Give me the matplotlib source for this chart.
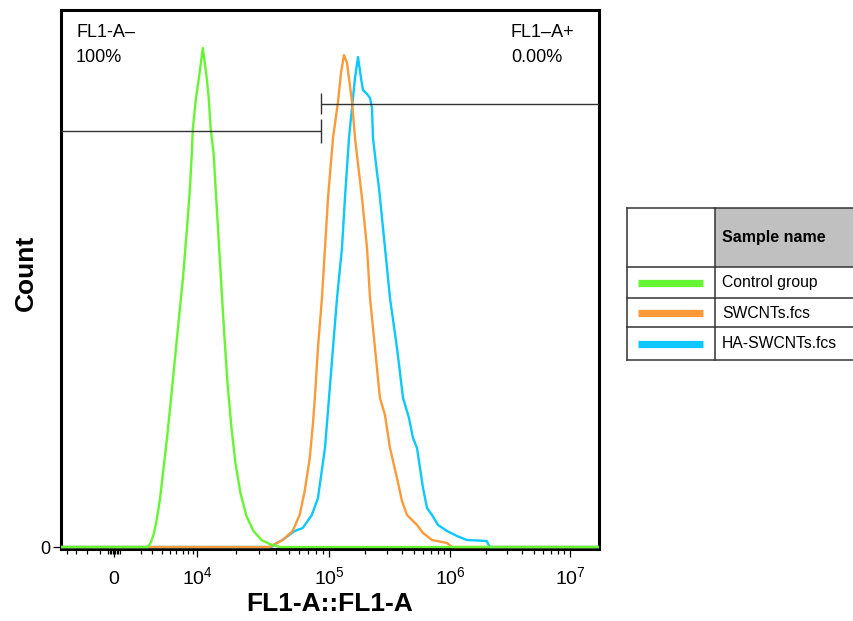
import numpy as np
import matplotlib
matplotlib.use('Agg')
import matplotlib.pyplot as plt
from matplotlib.patches import Rectangle

plt.rcParams['font.family'] = 'Liberation Sans'
plt.rcParams['mathtext.fontset'] = 'custom'
plt.rcParams['mathtext.rm'] = 'Liberation Sans'
plt.rcParams['mathtext.it'] = 'Liberation Sans'
plt.rcParams['mathtext.bf'] = 'Liberation Sans:bold'

# FL1-A intensity vs count
control_fl = [2600, 2890, 3190, 3500, 3840, 4170, 4670, 5210, 5780, 6400, 7080, 7830,
              8420, 8820, 9030, 9750, 10350, 11100, 11900, 12330, 12770, 13450, 13930,
              14680, 15460, 16300, 17170, 18420, 19750, 21540, 23920, 27030, 31070,
              35730, 42550]
control_count = [0, 5, 14, 29, 49, 74, 109, 149, 189, 229, 269, 319,
                 359, 394, 418, 449, 469, 499, 469, 449, 418, 394, 359,
                 309, 259, 209, 164, 119, 84, 54, 31, 16, 7,
                 3, 0]

swcnt_fl = [35700, 44800, 53300, 60200, 65700, 71700, 75600, 78300, 82600, 88500,
            93300, 98300, 107900, 118700, 125600, 133000, 140900, 155000, 164000,
            187400, 206200, 218300, 239900, 263700, 290100, 319100, 364700, 401100,
            441300, 533800, 598400, 710200, 944000, 1040000]
swcnt_count = [0, 7, 16, 32, 56, 89, 122, 149, 199, 249,
               299, 349, 409, 445, 474, 492, 484, 445, 409,
               349, 299, 249, 199, 149, 132, 99, 69, 46,
               32, 22, 14, 7, 4, 0]

ha_fl = [37000, 40400, 44800, 55200, 63500, 74300, 82600, 93300, 100000, 107900,
         116500, 128000, 135500, 146300, 157800, 164000, 173700, 183800, 190900,
         206200, 218300, 226600, 231000, 249500, 259000, 274200, 296000, 319100,
         364700, 409200, 458300, 494600, 533800, 565000, 598400, 645700, 710200,
         796000, 944000, 1143000, 1381000, 2022000, 2142000]
ha_count = [0, 4, 7, 16, 19, 32, 49, 99, 149, 199,
            249, 299, 349, 409, 449, 469, 490, 469, 457,
            453, 449, 439, 409, 374, 359, 329, 289, 249,
            199, 149, 129, 109, 99, 79, 59, 39, 32,
            22, 16, 11, 7, 6, 0]

samples = ['Control group', 'SWCNTs.fcs', 'HA-SWCNTs.fcs']
colors = ['#66f533', '#fc9a3a', '#0cc8fc']

gate_x = 87000
gate_labels = ['FL1-A\u2013', 'FL1\u2013A+']
gate_pcts = ['100%', '0.00%']

# biexponential-ish display scale (linear in asinh, pinned to the decade ticks)
W = 3000.0
dec_x = np.array([0, 1e4, 1e5, 1e6, 1e7])
dec_p = np.array([0, 83, 215, 336, 456], dtype=float)
k0 = dec_p[1] / np.arcsinh(1e4 / W)
anchor_x = np.concatenate([[-1e6, -1e4], dec_x, [1e9]])
anchor_u = np.arcsinh(anchor_x / W)
anchor_p = np.concatenate([k0 * anchor_u[:2], dec_p,
                           [dec_p[-1] + (anchor_u[-1] - anchor_u[-2]) * 120 / np.log(10)]])


def fwd(x):
    return np.interp(np.arcsinh(np.asarray(x, dtype=float) / W), anchor_u, anchor_p)


def inv(p):
    return W * np.sinh(np.interp(np.asarray(p, dtype=float), anchor_p, anchor_u))


xmin, xmax = -4670, 1.745e7

fig = plt.figure(figsize=(8.54, 6.21), dpi=100)
ax = fig.add_axes([61 / 854, 1 - 549 / 621, 538 / 854, 539 / 621])
ax.set_xscale('function', functions=(fwd, inv))

series = [(ha_fl, ha_count, colors[2]), (swcnt_fl, swcnt_count, colors[1]),
          (control_fl, control_count, colors[0])]
for fl, cnt, c in series:
    xs = [xmin] + list(fl) + [xmax]
    ys = [0] + list(cnt) + [0]
    ax.plot(xs, ys, color=c, lw=1.7, zorder=3)

# gates
gc = '#333333'
ax.hlines(416, xmin, gate_x, color=gc, lw=1.0, zorder=4)
ax.vlines(gate_x, 404, 428, color=gc, lw=1.0, zorder=4)
ax.hlines(443, gate_x, xmax, color=gc, lw=1.0, zorder=4)
ax.vlines(gate_x, 433, 454, color=gc, lw=1.0, zorder=4)

ax.text(0.028, 0.959, gate_labels[0], transform=ax.transAxes, fontsize=13, va='center', ha='left')
ax.text(0.028, 0.911, gate_pcts[0], transform=ax.transAxes, fontsize=13, va='center', ha='left')
ax.text(0.836, 0.959, gate_labels[1], transform=ax.transAxes, fontsize=13, va='center', ha='left')
ax.text(0.836, 0.911, gate_pcts[1], transform=ax.transAxes, fontsize=13, va='center', ha='left')

ax.set_xlim(xmin, xmax)
ax.set_ylim(-2, 537)

major = [0, 1e4, 1e5, 1e6, 1e7]
ax.set_xticks(major)
ax.set_xticklabels(['0', '$10^{4}$', '$10^{5}$', '$10^{6}$', '$10^{7}$'])
minor = [-4000, -3000, -2000, -1000, -400, -300, -200, -100, 100, 200, 300, 400]
minor += [m * 1000 for m in range(2, 10)]
for d in [1e4, 1e5, 1e6]:
    minor += [m * d for m in range(2, 10)]
ax.set_xticks(minor, minor=True)
ax.set_yticks([0])
ax.set_yticklabels(['0'])
ax.tick_params(axis='x', which='major', direction='out', length=6, width=0.9, labelsize=14, pad=19)
ax.tick_params(axis='x', which='minor', direction='out', length=3.5, width=0.9)
ax.tick_params(axis='y', direction='out', length=6, width=0.9, labelsize=13, pad=2)
for lab in ax.get_xticklabels():
    lab.set_verticalalignment('baseline')
for s in ax.spines.values():
    s.set_linewidth(2.2)

ax.set_xlabel('FL1-A::FL1-A', fontsize=19, fontweight='bold')
ax.xaxis.set_label_coords(0.5, -0.08)
ax.set_ylabel('Count', fontsize=19, fontweight='bold')
ax.yaxis.set_label_coords(-0.043, 0.513)

# sample legend table
tab = fig.add_axes([626 / 854, 1 - 361 / 621, (900 - 626) / 854, (361 - 207) / 621])
tab.set_xlim(626, 900)
tab.set_ylim(361, 207)
tab.axis('off')
tab.add_patch(Rectangle((715, 208), 185, 59, facecolor='#c0c0c0', edgecolor='none'))
lc = '#333333'
for y in [208, 267, 298, 327, 360]:
    tab.plot([627, 900], [y, y], color=lc, lw=1.1, clip_on=False)
for x in [627, 715]:
    tab.plot([x, x], [208, 360], color=lc, lw=1.1, clip_on=False)
tab.text(722, 237.5, 'Sample name', fontsize=11.5, fontweight='bold', va='center', ha='left')
row_y = [282.5, 313, 343.5]
for name, c, y in zip(samples, colors, row_y):
    tab.plot([638, 703], [y, y], color=c, lw=5.2, solid_capstyle='butt')
    tab.text(722, y, name, fontsize=11.3, va='center', ha='left')

fig.savefig('out.png', dpi=100)
